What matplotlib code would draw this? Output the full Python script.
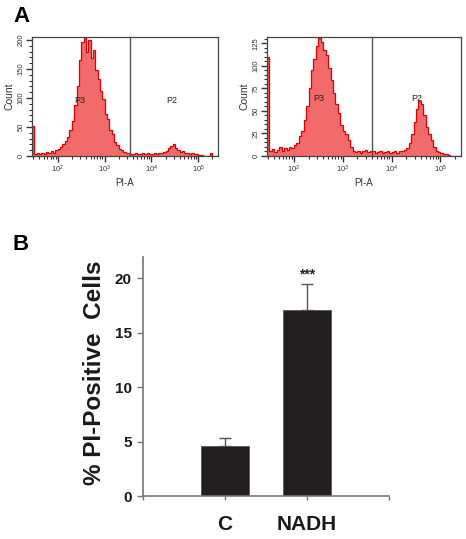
import numpy as np
import matplotlib
matplotlib.use("Agg")
import matplotlib.pyplot as plt
from matplotlib.ticker import MultipleLocator, FixedLocator, LogLocator, NullFormatter

plt.rcParams['font.family'] = ['Liberation Sans', 'DejaVu Sans']

# ---------------- data ----------------
# histogram bins: exponents (log10 PI-A) from 1.45 in steps of 0.05 decade
bin_start = 1.45
bin_width = 0.05
control_counts = [52, 4, 6, 3, 5, 4, 7, 5, 8, 6,
                  10, 12, 15, 20, 26, 33, 45, 60, 88, 120,
                  165, 196, 204, 180, 200, 168, 182, 148, 132, 112,
                  98, 72, 64, 44, 38, 24, 19, 12, 10, 7,
                  6, 5, 3, 4, 5, 3, 4, 5, 3, 6,
                  4, 3, 5, 4, 6, 5, 7, 9, 14, 18,
                  20, 13, 11, 7, 8, 5, 6, 4, 5, 3,
                  4, 2, 1, 0, 0, 0, 6, 0, 0, 0]
nadh_counts = [110, 5, 8, 4, 7, 10, 6, 9, 7, 10,
               9, 12, 14, 22, 28, 40, 55, 75, 95, 108,
               122, 131, 127, 118, 112, 98, 84, 70, 58, 48,
               34, 28, 24, 18, 10, 5, 4, 6, 3, 5,
               7, 4, 6, 5, 3, 4, 5, 3, 4, 6,
               3, 4, 5, 3, 6, 5, 7, 9, 14, 24,
               38, 52, 61, 58, 46, 32, 24, 18, 10, 6,
               4, 3, 2, 2, 1, 0, 0, 0, 0, 0]
gate_exponent = [3.55, 3.59]
hist_ylim = [205, 132]
hist_major = [50, 25]
hist_minor = [10, 5]

groups = ["C", "NADH"]
pct_pi = [4.6, 17.05]
pct_err = [0.75, 2.4]
signif = ["", "***"]

# ---------------- figure ----------------
W, H = 466, 539
fig = plt.figure(figsize=(W / 100, H / 100), dpi=100)

def box(l, t, r, b):
    return [l / W, 1 - b / H, (r - l) / W, (b - t) / H]

hist_boxes = [box(32, 37, 218, 156), box(267, 37, 461, 156)]
gate_lbl = [(2.47, 4.43), (2.5, 4.52)]
gate_lbl_y = [95, 64]

for k, counts in enumerate([control_counts, nadh_counts]):
    ax = fig.add_axes(hist_boxes[k])
    n = len(counts)
    edges = 10 ** (bin_start + bin_width * np.arange(n + 1))
    ax.stairs(counts, edges, fill=True, color='#f26a6a', linewidth=0)
    ax.stairs(counts, edges, fill=False, color='#e00000', linewidth=0.9)
    ax.set_xscale('log')
    ax.set_xlim(10 ** 1.45, 10 ** 5.42)
    ax.set_ylim(0, hist_ylim[k])
    ax.axvline(10 ** gate_exponent[k], color='#555555', lw=1.0)
    ax.text(10 ** gate_lbl[k][0], gate_lbl_y[k], "P3", fontsize=6.5, ha='center', va='center', color='#222222')
    ax.text(10 ** gate_lbl[k][1], gate_lbl_y[k], "P2", fontsize=6.5, ha='center', va='center', color='#222222')
    ax.xaxis.set_major_locator(FixedLocator([1e2, 1e3, 1e4, 1e5]))
    ax.xaxis.set_minor_locator(LogLocator(base=10, subs=np.arange(2, 10)))
    ax.xaxis.set_minor_formatter(NullFormatter())
    ax.yaxis.set_major_locator(MultipleLocator(hist_major[k]))
    ax.yaxis.set_minor_locator(MultipleLocator(hist_minor[k]))
    ax.tick_params(axis='both', which='major', direction='out', length=4, width=1.0,
                   labelsize=5.5, colors='#333333', pad=1.5)
    ax.tick_params(axis='both', which='minor', direction='out', length=2.5, width=0.8, colors='#333333')
    for lbl in ax.get_yticklabels():
        lbl.set_rotation(90)
        lbl.set_va('center')
    for s in ax.spines.values():
        s.set_color('#444444')
        s.set_linewidth(0.9)
    ax.set_ylabel("Count", fontsize=7.5, color='#333333', labelpad=2)
    ax.set_xlabel("PI-A", fontsize=7, color='#333333', labelpad=2)

fig.text(13 / W, 1 - 16 / H, "A", fontsize=16, fontweight='bold', ha='left', va='center')
fig.text(13 / W, 1 - 244 / H, "B", fontsize=16, fontweight='bold', ha='left', va='center')

# ---------------- bar chart ----------------
axb = fig.add_axes(box(143, 257, 389, 496))
xpos = np.arange(1, len(groups) + 1)
axb.bar(xpos, pct_pi, width=0.59, color='#231f20', edgecolor='#555555', linewidth=0.6, zorder=2)
axb.errorbar(xpos, pct_pi, yerr=[np.zeros(len(pct_err)), pct_err], fmt='none',
             ecolor='#555555', elinewidth=1.0, capsize=4, capthick=1.0, zorder=1)
for x, v, e, s in zip(xpos, pct_pi, pct_err, signif):
    if s:
        axb.text(x, v + e + 0.9, s, ha='center', va='center', fontsize=10, fontweight='bold', color='#222222')
axb.set_xlim(0, 3)
axb.set_ylim(0, 21.93)
axb.set_yticks([0, 5, 10, 15, 20])
axb.set_xticks([0, 1, 2, 3])
axb.set_xticklabels([])
for x, g in zip(xpos, groups):
    axb.text(x, -2.6, g, ha='center', va='center', fontsize=15, fontweight='bold', color='#1a1a1a')
axb.tick_params(axis='y', direction='out', length=4, width=1.0, color='#777777',
                labelsize=11, labelcolor='#1a1a1a', pad=4)
axb.tick_params(axis='x', direction='out', length=3, width=1.0, color='#777777')
for lbl in axb.get_yticklabels():
    lbl.set_fontweight('bold')
for s in ['top', 'right']:
    axb.spines[s].set_visible(False)
for s in ['left', 'bottom']:
    axb.spines[s].set_color('#777777')
    axb.spines[s].set_linewidth(1.2)
axb.set_ylabel("% PI-Positive  Cells", fontsize=17.5, fontweight='bold', color='#1a1a1a')
axb.yaxis.set_label_coords(-0.15, 0.517)

fig.savefig("out.png", dpi=100)
